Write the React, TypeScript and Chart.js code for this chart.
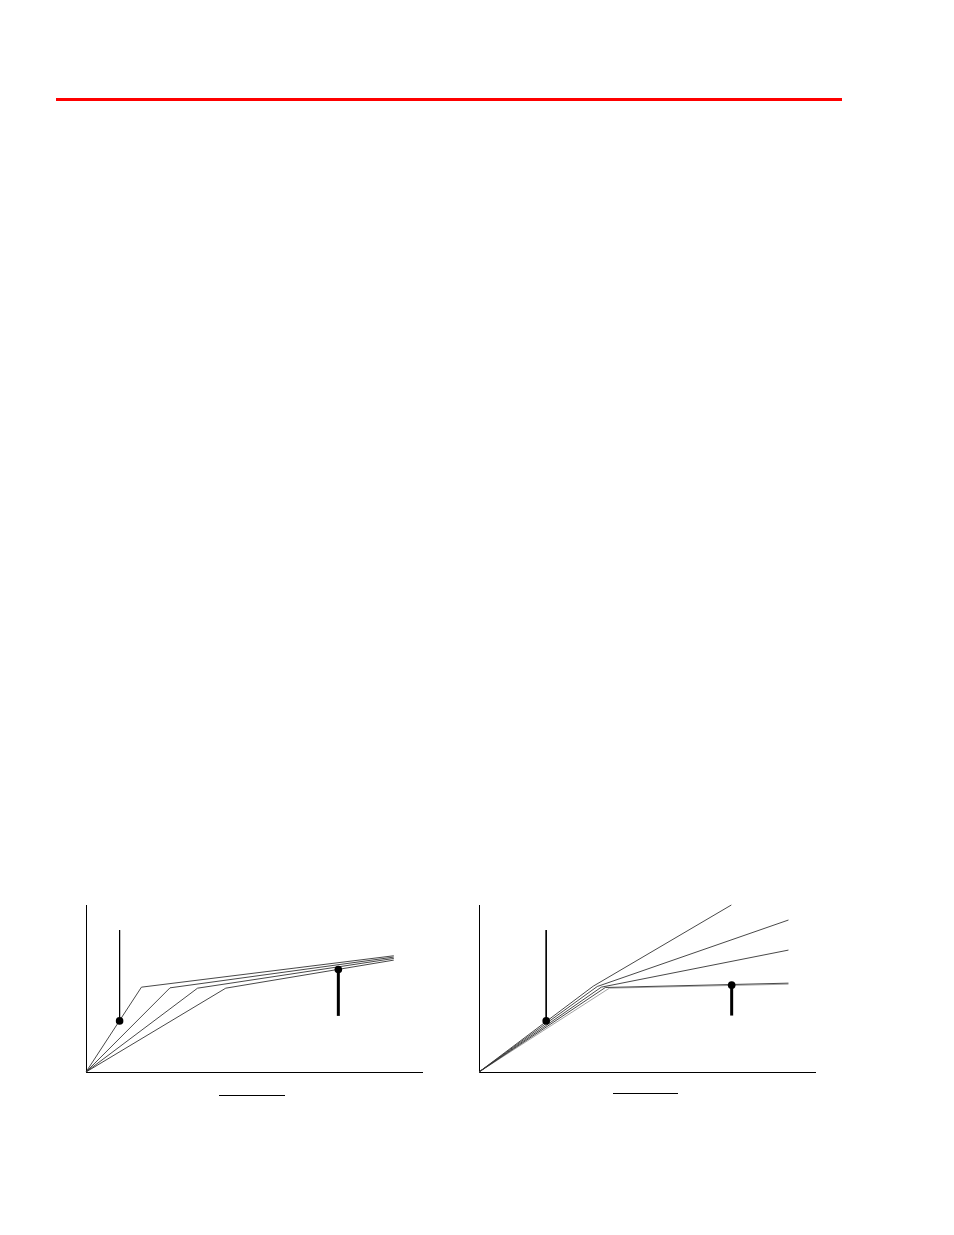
import React, { useRef, useEffect } from "react";
import Chart from "chart.js/auto";

// left panel: four curves, each origin -> knee -> end
const leftCurveA = [{ x: 0, y: 0 }, { x: 1.65, y: 2.54 }, { x: 9.16, y: 3.48 }];
const leftCurveB = [{ x: 0, y: 0 }, { x: 2.5, y: 2.52 }, { x: 9.16, y: 3.44 }];
const leftCurveC = [{ x: 0, y: 0 }, { x: 3.32, y: 2.51 }, { x: 9.16, y: 3.4 }];
const leftCurveD = [{ x: 0, y: 0 }, { x: 4.16, y: 2.51 }, { x: 9.16, y: 3.35 }];
// callouts: [x, point y, stem end y]
const leftCallouts = [
  [1.0, 1.53, 4.25],
  [7.51, 3.07, 1.68],
];

// right panel: five curves
const rightCurveA = [{ x: 0, y: 0 }, { x: 3.4, y: 2.57 }, { x: 7.51, y: 5.0 }];
const rightCurveB = [{ x: 0, y: 0 }, { x: 3.52, y: 2.56 }, { x: 9.21, y: 4.55 }];
const rightCurveC = [{ x: 0, y: 0 }, { x: 3.64, y: 2.54 }, { x: 9.21, y: 3.65 }];
const rightCurveD = [{ x: 0, y: 0 }, { x: 3.76, y: 2.53 }, { x: 9.21, y: 2.66 }];
const rightCurveE = [{ x: 0, y: 0 }, { x: 3.88, y: 2.51 }, { x: 9.21, y: 2.63 }];
const rightCallouts = [
  [2.0, 1.53, 4.25],
  [7.52, 2.6, 1.69],
];

const curveColors = ["#333", "#333", "#333", "#333", "#999"];
const calloutWidths = [1, 3];

interface PanelProps {
  curves: { x: number; y: number }[][];
  callouts: number[][];
  left: number;
  top: number;
}

const Panel: React.FC<PanelProps> = ({ curves, callouts, left, top }) => {
  const canvasRef = useRef<HTMLCanvasElement | null>(null);

  useEffect(() => {
    if (!canvasRef.current) return;
    const datasets: any[] = curves.map((pts, i) => ({
      data: pts,
      showLine: true,
      borderColor: curveColors[i],
      borderWidth: 0.9,
      pointRadius: 0,
      order: 1,
    }));
    // stems and dots go on top of the curves
    callouts.forEach(([x, y, to], i) => {
      datasets.push({
        data: [
          { x, y: to },
          { x, y },
        ],
        showLine: true,
        borderColor: "#000",
        backgroundColor: "#000",
        borderWidth: calloutWidths[i],
        pointRadius: [0, 3.8],
        pointBorderWidth: 0,
        order: -1,
      });
    });

    const axis = (max: number) => ({
      type: "linear" as const,
      min: 0,
      max,
      ticks: { display: false },
      grid: { display: false, drawTicks: false },
      border: { display: true, color: "#000", width: 1 },
    });

    const chart = new Chart(canvasRef.current, {
      type: "scatter",
      data: { datasets },
      options: {
        animation: false,
        responsive: false,
        clip: false,
        layout: { padding: { left: 6, top: 5, right: 8, bottom: 8 } },
        plugins: { legend: { display: false }, tooltip: { enabled: false } },
        scales: { x: axis(10), y: axis(5) },
      },
    });

    return () => chart.destroy();
  }, [curves, callouts]);

  return (
    <canvas
      ref={canvasRef}
      width={350}
      height={180}
      style={{ position: "absolute", left, top, width: 350, height: 180 }}
    />
  );
};

const App: React.FC = () => {
  return (
    <div style={{ position: "relative", width: 954, height: 1235 }}>
      <div
        style={{
          position: "absolute",
          left: 48,
          top: 90,
          width: 786,
          height: 3,
          background: "#ff0000",
        }}
      />
      <Panel
        curves={[leftCurveA, leftCurveB, leftCurveC, leftCurveD]}
        callouts={leftCallouts}
        left={72}
        top={892}
      />
      <Panel
        curves={[rightCurveA, rightCurveB, rightCurveC, rightCurveD, rightCurveE]}
        callouts={rightCallouts}
        left={465}
        top={892}
      />
      <div style={{ position: "absolute", left: 211, top: 1087, width: 66, height: 1, background: "#000" }} />
      <div style={{ position: "absolute", left: 605, top: 1085, width: 65, height: 1, background: "#000" }} />
    </div>
  );
};

export default App;
